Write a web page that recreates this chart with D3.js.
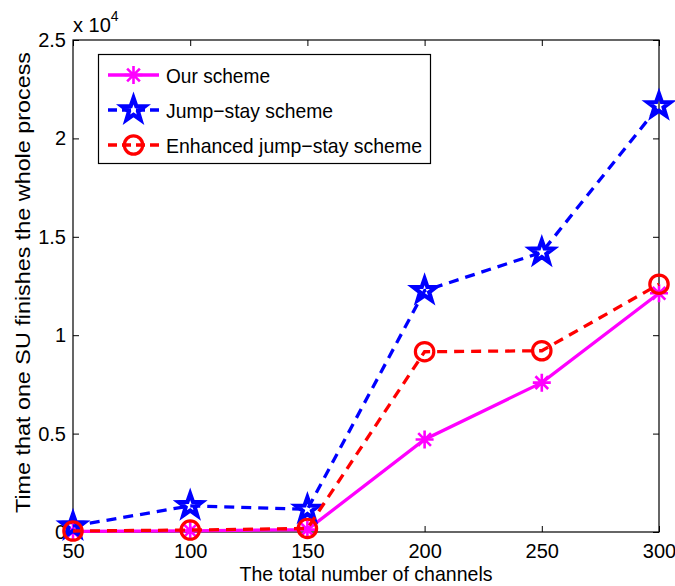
<!DOCTYPE html>
<html><head><meta charset="utf-8">
<script src="https://cdn.jsdelivr.net/npm/d3@7"></script>
<style>body{margin:0;background:#fff}svg{display:block}text{font-family:"Liberation Sans",Arial,sans-serif;fill:#000}</style>
</head><body>
<script>
const channels = [50, 100, 150, 200, 250, 300];
const ourScheme = [30, 60, 120, 4700, 7590, 12130];
const jumpStay = [300, 1330, 1150, 12260, 14210, 21650];
const enhancedJumpStay = [50, 100, 180, 9160, 9210, 12590];
const seriesNames = ["Our scheme", "Jump\u2212stay scheme", "Enhanced jump\u2212stay scheme"];
const xTicks = [50, 100, 150, 200, 250, 300];
const yTicks = [0, 5000, 10000, 15000, 20000, 25000];
const yTickLabels = ["0", "0.5", "1", "1.5", "2", "2.5"];

const W = 675, H = 586;
const m = {left: 73, right: 16, top: 40, bottom: 54};
const svg = d3.select("body").append("svg").attr("width", W).attr("height", H);
const x = d3.scaleLinear().domain([50, 300]).range([m.left, W - m.right]);
const y = d3.scaleLinear().domain([0, 25000]).range([H - m.bottom, m.top]);
const fs = 20;

// box
svg.append("rect").attr("x", x(50)).attr("y", y(25000)).attr("width", x(300)-x(50)).attr("height", y(0)-y(25000))
  .attr("fill", "#fff").attr("stroke", "#000").attr("stroke-width", 1.2);

// axes with inward ticks
const gx = svg.append("g").attr("transform", `translate(0,${y(0)})`)
  .call(d3.axisBottom(x).tickValues(xTicks).tickSizeInner(-6).tickSizeOuter(0).tickPadding(12));
const gxt = svg.append("g").attr("transform", `translate(0,${y(25000)})`)
  .call(d3.axisTop(x).tickValues(xTicks).tickSizeInner(-6).tickSizeOuter(0).tickFormat(""));
const gy = svg.append("g").attr("transform", `translate(${x(50)},0)`)
  .call(d3.axisLeft(y).tickValues(yTicks).tickSizeInner(-6).tickSizeOuter(0).tickPadding(7).tickFormat((d,i)=>yTickLabels[i]));
const gyr = svg.append("g").attr("transform", `translate(${x(300)},0)`)
  .call(d3.axisRight(y).tickValues(yTicks).tickSizeInner(-6).tickSizeOuter(0).tickFormat(""));
[gx, gxt, gy, gyr].forEach(g => {
  g.select(".domain").remove();
  g.selectAll("line").attr("stroke", "#000").attr("stroke-width", 1);
  g.selectAll("text").style("font-size", fs + "px").style("font-family", '"Liberation Sans",Arial,sans-serif');
});

// axis labels
svg.append("text").attr("x", (x(50)+x(300))/2).attr("y", 581).attr("text-anchor", "middle")
  .attr("textLength", 253).attr("lengthAdjust", "spacingAndGlyphs")
  .style("font-size", "21px").text("The total number of channels");
svg.append("text").attr("transform", `translate(30,${282.5}) rotate(-90)`).attr("text-anchor", "middle")
  .attr("textLength", 461).attr("lengthAdjust", "spacingAndGlyphs")
  .style("font-size", "21px").text("Time that one SU finishes the whole process");
const ex = svg.append("text").attr("x", x(50)).attr("y", 32).style("font-size", fs + "px");
ex.append("tspan").text("x 10");
ex.append("tspan").attr("dy", -11).style("font-size", "14px").text("4");

// markers
function starPath(r) {
  const pts = [];
  for (let i = 0; i < 10; i++) {
    const rr = i % 2 === 0 ? r : r * 0.4;
    const a = -Math.PI/2 + i * Math.PI/5;
    pts.push([rr*Math.cos(a), rr*Math.sin(a)]);
  }
  return "M" + pts.map(p => p.join(",")).join("L") + "Z";
}
function asteriskPath(r) {
  const d = r * Math.SQRT1_2;
  return `M${-r},0L${r},0M0,${-r}L0,${r}M${-d},${-d}L${d},${d}M${-d},${d}L${d},${-d}`;
}
function drawMarker(g, type, cx, cy, color) {
  if (type === "asterisk") {
    g.append("path").attr("d", asteriskPath(9)).attr("transform", `translate(${cx},${cy})`)
      .attr("stroke", color).attr("stroke-width", 2.6).attr("fill", "none");
  } else if (type === "star") {
    g.append("path").attr("d", starPath(12)).attr("transform", `translate(${cx},${cy})`)
      .attr("stroke", color).attr("stroke-width", 4.2).attr("fill", "none").attr("stroke-linejoin", "miter");
  } else {
    g.append("circle").attr("cx", cx).attr("cy", cy).attr("r", 9.2)
      .attr("stroke", color).attr("stroke-width", 3.2).attr("fill", "none");
  }
}

const series = [
  {name: seriesNames[0], values: ourScheme, color: "#ff00ff", dash: null, marker: "asterisk"},
  {name: seriesNames[1], values: jumpStay, color: "#0000ff", dash: "10,7", marker: "star"},
  {name: seriesNames[2], values: enhancedJumpStay, color: "#ff0000", dash: "10,7", marker: "circle"}
];
const line = d3.line().x(d => x(d[0])).y(d => y(d[1]));
series.forEach(s => {
  const g = svg.append("g");
  const data = channels.map((c, i) => [c, s.values[i]]);
  g.append("path").attr("d", line(data)).attr("fill", "none").attr("stroke", s.color)
    .attr("stroke-width", 3.3).attr("stroke-dasharray", s.dash);
  data.forEach(d => drawMarker(g, s.marker, x(d[0]), y(d[1]), s.color));
});

// legend
const legendWidths = [104, 167, 256];
const lg = svg.append("g");
lg.append("rect").attr("x", 98.5).attr("y", 54.5).attr("width", 332).attr("height", 109)
  .attr("fill", "#fff").attr("stroke", "#000").attr("stroke-width", 1.2);
series.forEach((s, i) => {
  const yy = 75 + i * 35;
  lg.append("line").attr("x1", 108).attr("x2", 159).attr("y1", yy).attr("y2", yy)
    .attr("stroke", s.color).attr("stroke-width", 3.3).attr("stroke-dasharray", s.dash ? "9,5" : null);
  drawMarker(lg, s.marker, 133.5, yy, s.color);
  lg.append("text").attr("x", 166).attr("y", yy).attr("dy", "0.36em")
    .attr("textLength", legendWidths[i]).attr("lengthAdjust", "spacingAndGlyphs")
    .style("font-size", "21px").text(s.name);
});
</script>
</body></html>
